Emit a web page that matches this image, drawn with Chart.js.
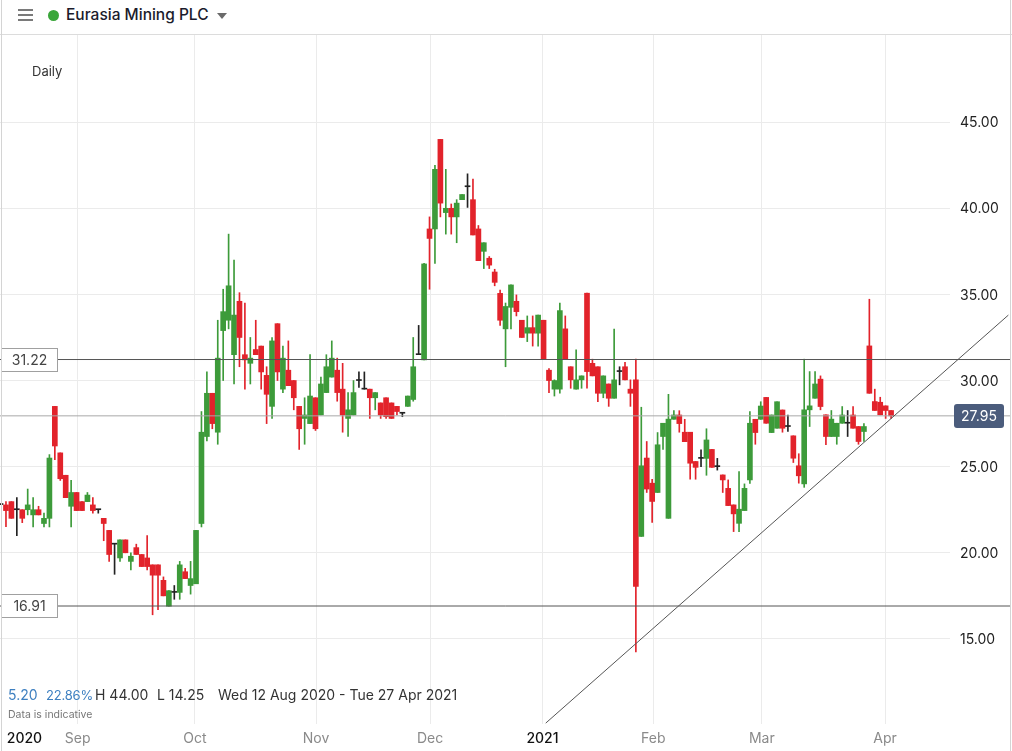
<!DOCTYPE html>
<html>
<head>
<meta charset="utf-8">
<script src="https://cdn.jsdelivr.net/npm/chart.js@4.4.1/dist/chart.umd.min.js"></script>
<style>
  html, body { margin: 0; padding: 0; background: #fff; }
  body { width: 1012px; height: 751px; position: relative; overflow: hidden; font-family: Inter, "Noto Sans", sans-serif; }
  #wrap { position: absolute; left: 0; top: 0; width: 1012px; height: 751px; }
  .frame { position: absolute; top: 0; left: 1px; width: 1008px; height: 751px; border-left: 1px solid #d4d4d4; border-right: 1px solid #d4d4d4; pointer-events: none; }
  .header { position: absolute; left: 0; top: 0; width: 1012px; height: 34px; border-bottom: 1px solid #dcdcdc; background: #fff; }
  .burger { position: absolute; left: 18px; top: 9px; width: 15px; }
  .burger i { display: block; height: 2px; background: #7a7a7a; margin-bottom: 3px; }
  .dot { position: absolute; left: 48px; top: 10px; width: 11px; height: 11px; border-radius: 50%; background: #3aa63a; }
  .title { position: absolute; left: 66px; top: 5px; font-size: 15.5px; font-weight: 500; color: #1b1b2b; }
  .caret { position: absolute; left: 217px; top: 13px; width: 0; height: 0; border-left: 5px solid transparent; border-right: 5px solid transparent; border-top: 6px solid #6a6a6a; }
  .daily { position: absolute; left: 32px; top: 63px; font-size: 13px; color: #333; }
  .stat { position: absolute; top: 686px; font-size: 14px; color: #333; white-space: nowrap; }
  .small { font-size: 13px; top: 687px; letter-spacing: -0.2px; }
  .blue { color: #3d7fc0; }
  .note { position: absolute; left: 8px; top: 708px; font-size: 10.5px; color: #777; }
</style>
</head>
<body>
<div id="wrap"><canvas id="chart" width="1012" height="751"></canvas></div>
<div class="header">
  <div class="burger"><i></i><i></i><i></i></div>
  <div class="dot"></div>
  <div class="title">Eurasia Mining PLC</div>
  <div class="caret"></div>
</div>
<div class="daily">Daily</div>
<div class="stat blue" style="left:8px">5.20</div>
<div class="stat small blue" style="left:46px">22.86%</div>
<div class="stat" style="left:95px">H 44.00</div>
<div class="stat" style="left:157px">L 14.25</div>
<div class="stat" style="left:218px">Wed 12 Aug 2020 - Tue 27 Apr 2021</div>
<div class="note">Data is indicative</div>
<div class="frame"></div>
<script>
// Eurasia Mining PLC - daily candles, 12 Aug 2020 onwards (index = trading day)

const opens = [
  22.8, 22.78, 22.97, 22.5, 22.5, 22.5, 22.2, 22.5, 21.7, 22.0,
  28.5, 25.8, 24.5, 22.7, 23.5, 22.97, 22.97, 22.78, 22.5, 22.0,
  21.3, 20.5, 19.7, 20.75, 19.5, 20.3, 19.9, 19.7, 19.3, 19.3,
  18.4, 16.9, 17.7, 17.7, 18.9, 18.1, 18.2, 21.7, 26.75, 29.26,
  27.0, 32.9, 33.5, 31.5, 34.6, 31.5, 31.0, 31.8, 32.0, 30.3,
  28.5, 33.3, 29.5, 30.6, 30.0, 28.5, 27.8, 27.5, 29.0, 28.0,
  29.3, 30.2, 30.6, 29.5, 27.8, 28.0, 30.0, 29.5, 29.5, 29.0,
  28.7, 29.0, 28.7, 28.5, 28.1, 28.5, 28.9, 31.5, 31.2, 38.8,
  38.8, 44.0, 39.75, 40.0, 39.5, 40.5, 41.25, 40.5, 38.8, 37.5,
  37.1, 36.3, 35.06, 33.0, 34.25, 34.6, 33.5, 32.75, 33.07, 32.75,
  33.5, 30.6, 29.5, 29.5, 33.0, 30.8, 29.5, 30.04, 35.07, 31.0,
  30.8, 29.26, 29.8, 28.97, 30.52, 30.8, 29.5, 30.04, 20.95, 25.5,
  24.04, 23.5, 26.75, 22.0, 27.75, 28.0, 27.0, 27.0, 25.3, 25.48,
  25.48, 26.0, 25.0, 24.52, 23.74, 22.78, 21.71, 22.45, 24.23, 27.75,
  27.75, 29.02, 26.98, 27.23, 28.29, 27.33, 26.79, 25.05, 24.0, 28.3,
  28.97, 30.08, 28.01, 26.75, 26.75, 27.52, 27.52, 28.0, 27.33, 27.04,
  32.01, 28.78, 28.74, 28.53, 28.26
];
const highs = [
  22.8, 22.97, 22.97, 23.2, 22.5, 23.7, 23.2, 22.7, 22.3, 25.7,
  28.5, 25.8, 24.5, 24.2, 23.5, 22.97, 23.5, 23.2, 22.5, 22.0,
  21.3, 20.5, 20.75, 20.75, 20.0, 20.5, 19.9, 21.0, 19.3, 19.3,
  18.6, 17.8, 18.1, 19.5, 19.1, 19.5, 21.3, 28.2, 30.5, 29.26,
  33.5, 35.3, 38.5, 37.0, 35.1, 34.5, 32.5, 33.5, 32.0, 30.8,
  32.5, 33.3, 32.0, 32.3, 30.0, 28.5, 29.0, 31.5, 29.0, 30.2,
  31.5, 32.3, 31.3, 31.0, 29.3, 30.0, 30.5, 30.5, 29.5, 29.3,
  28.7, 29.0, 28.7, 28.5, 28.1, 29.1, 32.5, 33.2, 36.8, 39.5,
  42.5, 44.0, 42.26, 40.25, 40.5, 40.8, 42.0, 41.7, 39.0, 38.0,
  37.2, 36.46, 35.25, 34.5, 35.55, 34.97, 33.5, 33.75, 33.75, 33.8,
  33.5, 30.7, 30.04, 34.5, 33.75, 30.8, 31.78, 30.27, 35.07, 31.24,
  30.8, 30.27, 29.8, 32.98, 30.8, 31.05, 30.04, 31.24, 28.45, 26.46,
  24.27, 26.98, 27.52, 29.2, 28.25, 28.25, 27.75, 27.0, 25.3, 25.97,
  27.2, 26.0, 25.48, 24.52, 24.23, 22.78, 24.71, 24.0, 28.2, 27.75,
  28.77, 29.02, 28.0, 28.77, 28.29, 28.0, 26.79, 25.75, 31.24, 30.52,
  30.52, 30.27, 28.01, 28.26, 27.52, 28.49, 28.26, 28.49, 27.33, 27.5,
  34.72, 29.5, 29.03, 28.53, 28.26
];
const lows = [
  22.8, 21.52, 22.0, 21.0, 21.75, 22.2, 21.5, 22.2, 21.5, 21.5,
  25.4, 24.2, 23.2, 21.5, 22.45, 22.45, 22.97, 22.3, 22.3, 20.7,
  19.5, 18.75, 19.5, 20.0, 19.0, 19.9, 19.2, 19.0, 16.4, 16.7,
  17.5, 16.9, 17.3, 17.3, 18.5, 17.6, 18.2, 21.5, 26.5, 27.2,
  26.3, 30.0, 33.0, 29.8, 30.8, 29.5, 29.8, 31.5, 29.5, 27.5,
  27.8, 30.0, 29.3, 29.7, 28.3, 26.0, 26.3, 27.5, 27.1, 28.0,
  29.3, 30.2, 28.8, 27.0, 26.75, 28.0, 29.6, 29.5, 27.8, 28.3,
  27.8, 27.8, 27.8, 28.0, 27.9, 28.5, 28.8, 31.5, 31.2, 35.3,
  36.8, 39.5, 38.5, 38.5, 38.0, 40.5, 40.05, 38.45, 36.96, 36.5,
  36.5, 35.5, 33.2, 30.8, 33.0, 33.75, 32.5, 32.26, 32.0, 32.0,
  31.23, 29.3, 29.1, 29.26, 31.24, 29.55, 29.5, 29.55, 29.55, 30.27,
  28.78, 29.0, 28.5, 28.97, 29.75, 30.04, 28.5, 14.25, 20.95, 23.5,
  21.76, 23.5, 26.0, 22.0, 27.75, 27.0, 26.45, 24.27, 24.27, 25.0,
  24.5, 24.96, 24.8, 23.5, 22.74, 21.23, 21.23, 22.45, 24.03, 26.3,
  27.75, 27.52, 26.98, 27.23, 27.0, 27.04, 25.24, 24.04, 23.8, 27.33,
  28.97, 28.3, 26.27, 26.75, 26.3, 27.52, 26.75, 27.23, 26.3, 26.46,
  29.26, 28.26, 28.01, 27.8, 27.8
];
const closes = [
  22.8, 22.45, 22.0, 22.5, 22.0, 22.78, 22.5, 22.2, 22.0, 25.5,
  26.2, 24.3, 23.2, 23.5, 22.45, 22.45, 23.35, 22.45, 22.5, 21.7,
  19.9, 20.5, 20.75, 20.0, 19.8, 19.9, 19.2, 19.2, 18.7, 18.7,
  17.5, 17.8, 17.7, 19.3, 18.5, 18.5, 21.3, 27.0, 29.26, 27.5,
  31.3, 34.0, 35.5, 33.8, 32.5, 31.2, 31.3, 31.5, 30.5, 29.2,
  32.3, 30.5, 31.3, 29.7, 29.0, 27.2, 28.0, 29.1, 27.2, 29.8,
  30.8, 31.3, 29.3, 28.0, 28.3, 29.3, 30.0, 29.5, 29.0, 29.3,
  28.0, 27.9, 27.8, 28.2, 28.1, 29.1, 30.8, 31.5, 36.77, 38.25,
  42.26, 40.3, 40.0, 39.5, 40.3, 40.8, 41.25, 38.45, 36.96, 38.0,
  36.7, 35.7, 33.5, 34.3, 35.55, 34.0, 32.5, 33.07, 32.75, 33.8,
  31.23, 30.0, 30.0, 34.06, 31.24, 30.04, 30.04, 30.27, 30.52, 30.27,
  29.26, 30.27, 28.97, 30.04, 30.52, 30.04, 29.26, 18.05, 25.05, 23.7,
  22.98, 26.27, 27.52, 27.76, 28.0, 27.5, 26.45, 25.2, 24.96, 25.48,
  26.55, 24.96, 25.0, 24.23, 22.74, 22.26, 22.53, 23.74, 27.52, 26.98,
  28.52, 27.52, 28.0, 28.77, 27.23, 27.33, 25.49, 24.47, 28.3, 28.53,
  29.8, 28.49, 26.75, 27.76, 27.52, 28.0, 27.52, 27.23, 26.46, 27.33,
  29.26, 28.26, 28.01, 28.26, 27.95
];

// axis labels (trading-day index of each month start)
const monthLabels = ['2020', 'Sep', 'Oct', 'Nov', 'Dec', '2021', 'Feb', 'Mar', 'Apr'];
const monthIndex = [4.4, 14.2, 35.8, 58.1, 79.1, 99.8, 120.2, 140.2, 162.9];
const priceTicks = [15, 20, 25, 30, 35, 40, 45];

// drawn levels
const boxLevels = [31.22, 16.91];
const lastPrice = 27.95;
const trendIdx = [100.4, 185.6];
const trendPrice = [10.11, 33.8];

const UP = '#3d9b3a', DOWN = '#e2232b', FLAT = '#222';
const candleColor = i => closes[i] > opens[i] ? UP : (closes[i] < opens[i] ? DOWN : FLAT);
const idx = closes.map((c, i) => i);

function levelLine(v, color) {
  return {
    type: 'line',
    data: [{ x: -0.1, y: v }, { x: 186, y: v }],
    borderColor: color, borderWidth: 1, pointRadius: 0, clip: false
  };
}

// price labels on the right, level boxes
const priceLabels = {
  id: 'priceLabels',
  afterDatasetsDraw(chart) {
    const ctx = chart.ctx, y = chart.scales.y;
    ctx.save();
    ctx.font = '14px Inter, sans-serif';
    ctx.textBaseline = 'middle';
    ctx.textAlign = 'left';
    ctx.fillStyle = '#222';
    priceTicks.forEach(v => ctx.fillText(v.toFixed(2), 960, y.getPixelForValue(v) + 1));

    ctx.textAlign = 'center';
    boxLevels.forEach(v => {
      const py = Math.round(y.getPixelForValue(v));
      ctx.fillStyle = '#fff';
      ctx.fillRect(1.5, py - 11.5, 56, 23);
      ctx.strokeStyle = '#a0a0a0';
      ctx.lineWidth = 1;
      ctx.strokeRect(1.5, py - 11.5, 56, 23);
      ctx.fillStyle = '#444';
      ctx.fillText(v.toFixed(2), 29.5, py + 1);
    });
    const py = Math.round(y.getPixelForValue(lastPrice));
    ctx.fillStyle = '#4b5c7c';
    ctx.beginPath();
    ctx.roundRect(954, py - 12, 50, 24, 3);
    ctx.fill();
    ctx.fillStyle = '#fff';
    ctx.fillText(lastPrice.toFixed(2), 979, py + 1);
    ctx.restore();
  }
};

new Chart(document.getElementById('chart'), {
  type: 'bar',
  data: {
    datasets: [
      {
        type: 'line',
        data: trendIdx.map((x, i) => ({ x: x, y: trendPrice[i] })),
        borderColor: '#555', borderWidth: 1, pointRadius: 0, clip: false
      },
      levelLine(boxLevels[0], '#555'),
      levelLine(boxLevels[1], '#555'),
      levelLine(lastPrice, '#a8a8a8'),
      {
        data: idx.map(i => ({ x: i, y: [opens[i], closes[i]] })),
        backgroundColor: ctx => candleColor(ctx.dataIndex),
        barThickness: 5, grouped: false, minBarLength: 1
      },
      {
        data: idx.map(i => ({ x: i, y: [lows[i], highs[i]] })),
        backgroundColor: ctx => candleColor(ctx.dataIndex),
        barThickness: 1, grouped: false
      }
    ]
  },
  options: {
    responsive: false,
    animation: false,
    layout: { padding: { top: 35, right: 2, left: 0, bottom: 0 } },
    plugins: { legend: { display: false }, tooltip: { enabled: false } },
    scales: {
      x: {
        type: 'linear', min: -0.1, max: 174.85, offset: false,
        afterBuildTicks: s => { s.ticks = monthIndex.map(v => ({ value: v })); },
        afterFit: s => { s.height = 27; },
        border: { display: false },
        grid: {
          offset: false, drawTicks: false,
          color: ctx => (ctx.index === 0 ? 'rgba(0,0,0,0)' : '#ebebeb')
        },
        ticks: {
          autoSkip: false, maxRotation: 0, padding: 6,
          callback: (v, i) => monthLabels[i],
          color: ctx => (/^\d+$/.test(monthLabels[ctx.index]) ? '#111' : '#8a8a8a'),
          font: ctx => ({ family: 'Inter', size: 14, weight: /^\d+$/.test(monthLabels[ctx.index]) ? '500' : '400' })
        }
      },
      y: {
        position: 'right', min: 10.06, max: 50.06,
        afterBuildTicks: s => { s.ticks = priceTicks.map(v => ({ value: v })); },
        afterFit: s => { s.width = 60; },
        border: { display: false },
        grid: { drawTicks: false, color: '#ebebeb' },
        ticks: { display: false }
      }
    }
  },
  plugins: [priceLabels]
});
</script>
</body>
</html>
